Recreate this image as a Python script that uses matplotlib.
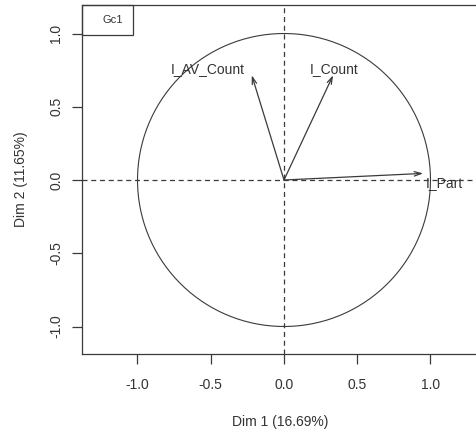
import numpy as np
import matplotlib
matplotlib.use("Agg")
import matplotlib.pyplot as plt

plt.rcParams['font.family'] = ['Liberation Sans', 'DejaVu Sans']

variables = ["I_Part", "I_Count", "I_AV_Count"]
dim1 = [0.95, 0.335, -0.22]
dim2 = [0.045, 0.715, 0.715]
label_x = [0.965, 0.34, -0.52]
label_y = [-0.02, 0.76, 0.76]
xlabel = "Dim 1 (16.69%)"
ylabel = "Dim 2 (11.65%)"
ticks = [-1.0, -0.5, 0.0, 0.5, 1.0]
tick_labels = ["-1.0", "-0.5", "0.0", "0.5", "1.0"]
legend_label = "Gc1"

W, H = 477, 434
fig = plt.figure(figsize=(W/100, H/100), dpi=100)
L, R, T, B = 82, 478, 5, 354
ax = fig.add_axes([L/W, (H-B)/H, (R-L)/W, (B-T)/H])
sc = 146.5
x0, y0 = 284, 180
ax.set_xlim((L-x0)/sc, (R-x0)/sc)
ax.set_ylim((y0-B)/sc, (y0-T)/sc)

lc = '#3a3a3a'
tc = '#333333'
th = np.linspace(0, 2*np.pi, 400)
ax.plot(np.cos(th), np.sin(th), color=lc, lw=0.8)
ax.axhline(0, color=lc, lw=0.9, ls=(0, (4, 3)))
ax.axvline(0, color=lc, lw=0.9, ls=(0, (4, 3)))

for v, x, y in zip(variables, dim1, dim2):
    ax.annotate('', xy=(x, y), xytext=(0, 0),
                arrowprops=dict(arrowstyle='->,head_length=0.5,head_width=0.16',
                                color=lc, lw=0.9, shrinkA=0, shrinkB=0))
ax.text(label_x[0], label_y[0], variables[0], fontsize=10, color=tc,
        ha='left', va='center')
ax.text(label_x[1], label_y[1], variables[1], fontsize=10, color=tc,
        ha='center', va='center')
ax.text(label_x[2], label_y[2], variables[2], fontsize=10, color=tc,
        ha='center', va='center')

ax.set_xticks(ticks)
ax.set_xticklabels(tick_labels, fontsize=10, color=tc)
ax.set_yticks(ticks)
ax.set_yticklabels(tick_labels, fontsize=10, color=tc, rotation=90, va='center')
ax.tick_params(direction='out', length=7, width=0.9, color=lc, pad=10)
ax.tick_params(axis='y', pad=6.5)
ax.set_xlabel(xlabel, fontsize=10, color=tc, labelpad=17)
ax.set_ylabel(ylabel, fontsize=10, color=tc, labelpad=15)
for s in ['left', 'bottom', 'top']:
    ax.spines[s].set_color(lc)
    ax.spines[s].set_linewidth(0.9)
ax.spines['right'].set_visible(False)

# legend box
bx0 = (L-x0)/sc
by1 = (y0-T)/sc
bw = (133-82)/sc
bh = (35-5)/sc
ax.add_patch(plt.Rectangle((bx0, by1-bh), bw, bh, fill=False, edgecolor=lc, lw=0.9, clip_on=False))
ax.text(bx0 + bw*0.6, by1 - bh/2, legend_label, fontsize=8, ha='center', va='center', color=tc)

fig.savefig("out.png", dpi=100)
